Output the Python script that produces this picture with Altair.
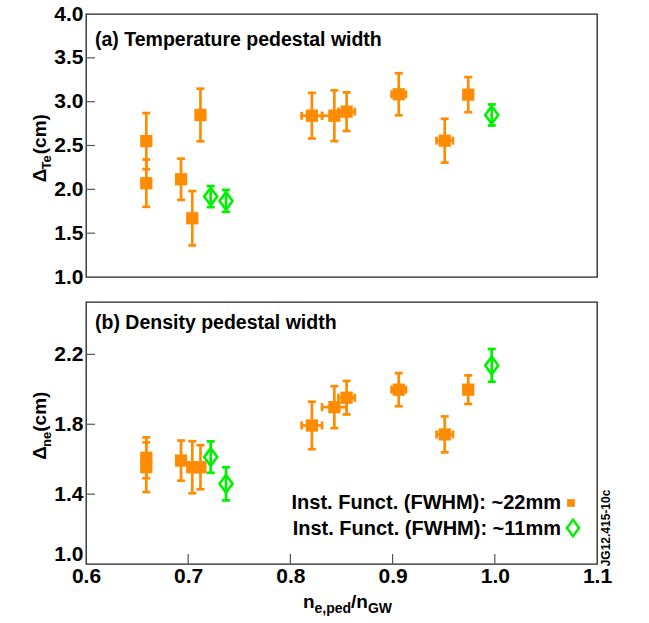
import altair as alt
import pandas as pd

# ---------------- data ----------------
x_val = [0.659, 0.659, 0.693, 0.704, 0.712, 0.722, 0.737,
         0.821, 0.843, 0.855, 0.906, 0.951, 0.974, 0.997]
x_err = [0.0, 0.0, 0.0, 0.0, 0.0, 0.0, 0.0,
         0.010, 0.012, 0.008, 0.007, 0.008, 0.004, 0.0]
te_val = [2.55, 2.07, 2.115, 1.67, 2.848, 1.917, 1.868,
          2.84, 2.84, 2.886, 3.084, 2.555, 3.08, 2.848]
te_err = [0.32, 0.27, 0.235, 0.31, 0.30, 0.12, 0.125,
          0.26, 0.29, 0.22, 0.24, 0.25, 0.20, 0.12]
ne_val = [1.608, 1.554, 1.592, 1.554, 1.554, 1.612, 1.459,
          1.793, 1.898, 1.952, 1.998, 1.742, 1.998, 2.137]
ne_err = [0.117, 0.142, 0.115, 0.149, 0.126, 0.09, 0.095,
          0.136, 0.12, 0.096, 0.095, 0.103, 0.082, 0.094]
inst_fun = ["22mm"] * 5 + ["11mm"] * 2 + ["22mm"] * 6 + ["11mm"]

x_ticks = [0.6, 0.7, 0.8, 0.9, 1.0, 1.1]
x_inner_ticks = [0.7, 0.8, 0.9, 1.0]
te_ticks = [1.0, 1.5, 2.0, 2.5, 3.0, 3.5, 4.0]
te_inner_ticks = [1.5, 2.0, 2.5, 3.0, 3.5]
ne_ticks = [1.0, 1.4, 1.8, 2.2]
ne_inner_ticks = [1.4, 1.8, 2.2]

legend_labels = ["Inst. Funct. (FWHM): ~22mm", "Inst. Funct. (FWHM): ~11mm"]
panel_a_label = "(a) Temperature pedestal width"
panel_b_label = "(b) Density pedestal width"
figure_id = "JG12.415-10c"

df = pd.DataFrame(dict(x=x_val, xe=x_err, te=te_val, tee=te_err,
                       ne=ne_val, nee=ne_err, g=inst_fun))

# ---------------- styling ----------------
W, H1, H2 = 511, 263, 262
ORANGE = "#FF8C00"
GREEN = "#00F000"
FONT = "Liberation Sans, Arial, Helvetica, sans-serif"
DIAMOND = "M0,-1.35L1,0L0,1.35L-1,0Z"
LW = 2.7
NBSP = "\u00a0"

# Arial-bold advance widths (em) for composing sub-scripted titles
AW = {"Δ": 0.67, "T": 0.611, "e": 0.556, "n": 0.611, " ": 0.278,
      NBSP: 0.278, "(": 0.333, ")": 0.333, "c": 0.556, "m": 0.889,
      ",": 0.278, "p": 0.611, "d": 0.611, "/": 0.278, "G": 0.778, "W": 0.944}


def tw(s, size):
    return sum(AW.get(ch, 0.6) for ch in s) * size


xs = alt.Scale(domain=[0.6, 1.1], nice=False, zero=False)
color = alt.Color("g:N", scale=alt.Scale(domain=["22mm", "11mm"],
                                         range=[ORANGE, GREEN]), legend=None)


def text_layer(txt, x, y, size, angle=0, align="left", weight="bold",
               baseline="alphabetic"):
    kw = dict(align=align, baseline=baseline, fontSize=size, font=FONT,
              fontWeight=weight, color="black")
    if angle:
        kw["angle"] = angle
    return alt.Chart(pd.DataFrame({"t": [txt]})).mark_text(**kw).encode(
        text="t:N", x=alt.value(x), y=alt.value(y))


def vtitle(segments, base_x, center_y):
    total = sum(tw(s, sz) for s, sz, _ in segments)
    y = center_y + total / 2
    layers = []
    for s, sz, shift in segments:
        layers.append(text_layer(s, base_x + shift, y, sz, angle=270))
        y -= tw(s, sz)
    return layers


def htitle(segments, center_x, base_y):
    total = sum(tw(s, sz) for s, sz, _ in segments)
    x = center_x - total / 2
    layers = []
    for s, sz, shift in segments:
        layers.append(text_layer(s, x, base_y + shift, sz))
        x += tw(s, sz)
    return layers


def panel(var, err, dom, ticks_lab, ticks_in, h, bottom):
    ys = alt.Scale(domain=dom, nice=False, zero=False)
    base = alt.Chart(df).transform_calculate(
        lo=f"datum.{var} - datum.{err}", hi=f"datum.{var} + datum.{err}",
        xlo="datum.x - datum.xe", xhi="datum.x + datum.xe")
    if bottom:
        xaxis = alt.Axis(values=x_ticks, format=".1f", ticks=False,
                         tickSize=0, domain=False, grid=False, title=None,
                         labelPadding=1, labelFontSize=21,
                         labelFontWeight="bold", labelFont=FONT,
                         labelColor="black", labelFlush=False)
    else:
        xaxis = None
    yaxis = alt.Axis(values=ticks_lab, format=".1f", ticks=False, tickSize=0,
                     domain=False, grid=False, title=None, labelPadding=3,
                     labelFontSize=21, labelFontWeight="bold", labelFont=FONT,
                     labelColor="black", labelFlush=bottom)

    def X(f):
        return alt.X(f, scale=xs, axis=xaxis)

    def Y(f):
        return alt.Y(f, scale=ys, axis=yaxis)

    vbar = base.mark_rule(strokeWidth=LW).encode(
        x=X("x:Q"), y=Y("lo:Q"), y2="hi:Q", color=color)
    cap_lo = base.mark_tick(orient="horizontal", size=8, thickness=LW,
                            opacity=1).encode(x=X("x:Q"), y=Y("lo:Q"),
                                              color=color)
    cap_hi = base.mark_tick(orient="horizontal", size=8, thickness=LW,
                            opacity=1).encode(x=X("x:Q"), y=Y("hi:Q"),
                                              color=color)
    hb = base.transform_filter("datum.xe > 0")
    hbar = hb.mark_rule(strokeWidth=LW).encode(
        x=X("xlo:Q"), x2="xhi:Q", y=Y(f"{var}:Q"), color=color)
    hcap_lo = hb.mark_tick(orient="vertical", size=8, thickness=LW,
                           opacity=1).encode(x=X("xlo:Q"), y=Y(f"{var}:Q"),
                                             color=color)
    hcap_hi = hb.mark_tick(orient="vertical", size=8, thickness=LW,
                           opacity=1).encode(x=X("xhi:Q"), y=Y(f"{var}:Q"),
                                             color=color)
    pts_o = base.transform_filter("datum.g == '22mm'").mark_point(
        shape="square", filled=True, size=150, opacity=1).encode(
        x=X("x:Q"), y=Y(f"{var}:Q"), color=color)
    pts_g = base.transform_filter("datum.g == '11mm'").mark_point(
        shape=DIAMOND, filled=False, size=170, strokeWidth=2.6,
        opacity=1).encode(x=X("x:Q"), y=Y(f"{var}:Q"), color=color)
    yt = alt.Chart(pd.DataFrame({"v": ticks_in})).mark_rule(
        color="#555", strokeWidth=1.2).encode(
        y=Y("v:Q"), x=alt.value(0), x2=alt.value(9))
    layers = [vbar, cap_lo, cap_hi, hbar, hcap_lo, hcap_hi, yt, pts_o, pts_g]
    if bottom:
        xt = alt.Chart(pd.DataFrame({"v": x_inner_ticks})).mark_rule(
            color="#555", strokeWidth=1.2).encode(
            x=X("v:Q"), y=alt.value(h), y2=alt.value(h - 10))
        layers.append(xt)
    return layers


# ---------- top panel ----------
top_layers = panel("te", "tee", [1.0, 4.0], te_ticks, te_inner_ticks, H1, False)
top_layers.append(text_layer(panel_a_label, 9, 32, 19.5))
top_layers += vtitle([("Δ", 19, 0), ("Te", 13, 5), (NBSP + "(cm)", 19, 0)],
                     -40, H1 / 2)
top = alt.layer(*top_layers).properties(width=W, height=H1)

# ---------- bottom panel ----------
bot_layers = panel("ne", "nee", [1.0, 2.5], ne_ticks, ne_inner_ticks, H2, True)
bot_layers.append(text_layer(panel_b_label, 9, 27, 19.5))
bot_layers += vtitle([("Δ", 19, 0), ("ne", 13, 5), (NBSP + "(cm)", 19, 0)],
                     -40, H2 / 2 - 10)
bot_layers += htitle([("n", 19, 0), ("e,ped", 14, 5), ("/n", 19, 0),
                      ("GW", 14, 5)], W / 2 + 6, H2 + 44)
# legend
bot_layers.append(text_layer(legend_labels[0], 475, 201, 20, align="right",
                             baseline="middle"))
bot_layers.append(text_layer(legend_labels[1], 475, 227, 20, align="right",
                             baseline="middle"))
leg = pd.DataFrame({"g": ["22mm", "11mm"]})
bot_layers.append(alt.Chart(leg).transform_filter("datum.g == '22mm'")
                  .mark_point(shape="square", filled=True, size=60, opacity=1)
                  .encode(x=alt.value(485), y=alt.value(201), color=color))
bot_layers.append(alt.Chart(leg).transform_filter("datum.g == '11mm'")
                  .mark_point(shape=DIAMOND, filled=False, size=150,
                              strokeWidth=2.5, opacity=1)
                  .encode(x=alt.value(487), y=alt.value(226), color=color))
bot_layers.append(text_layer(figure_id, W + 13, 226, 12, angle=270,
                             align="center"))
bottom = alt.layer(*bot_layers).properties(width=W, height=H2)

chart = (alt.vconcat(top, bottom, spacing=25, bounds="flush")
         .properties(padding={"left": 30, "top": 2, "right": 5, "bottom": 5},
                     background="white")
         .configure_view(stroke="#222", strokeWidth=1.3)
         .resolve_scale(color="shared"))

chart.save("out.html", embed_options={"renderer": "svg", "actions": False})
